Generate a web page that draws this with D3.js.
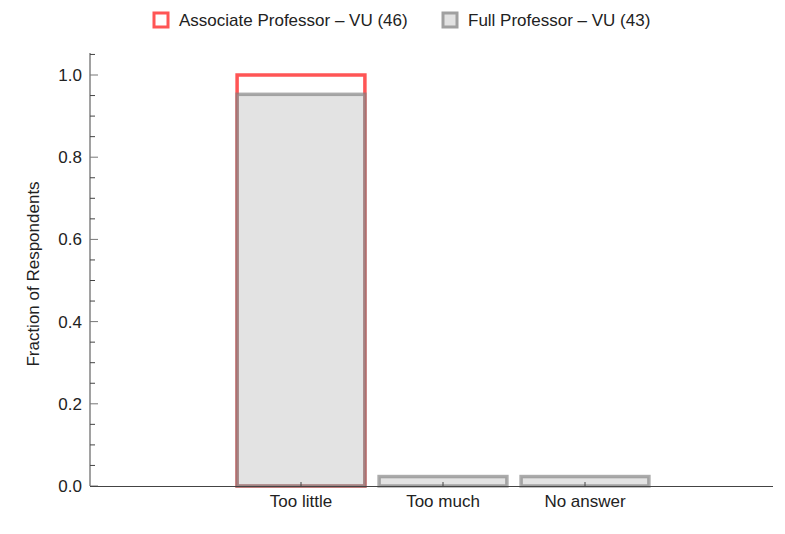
<!DOCTYPE html>
<html><head><meta charset="utf-8">
<script src="https://cdn.jsdelivr.net/npm/d3@7"></script>
<style>body{margin:0;background:#fff;} text{font-family:"Liberation Sans",Arial,sans-serif;}</style>
</head><body>
<svg id="c" width="785" height="534"></svg>
<script>
const categories = ["Too little", "Too much", "No answer"];
const associateVU = [1.0, 0.0, 0.0];
const fullVU = [0.953, 0.023, 0.023];
const seriesNames = ["Associate Professor \u2013 VU (46)", "Full Professor \u2013 VU (43)"];
const yTicks = [0.0, 0.2, 0.4, 0.6, 0.8, 1.0];

const svg = d3.select("#c");
const y = d3.scaleLinear().domain([0, 1]).range([486, 75]);
const x = d3.scaleBand().domain(categories).range([230, 656]).paddingInner(0.1).paddingOuter(0.05);
const axisColor = "#444";

// bars: associate (red) first, full (gray) on top
const red = "#ff5555";
svg.append("g").selectAll("rect").data(categories).join("rect")
  .attr("x", d => x(d)).attr("width", x.bandwidth())
  .attr("y", (d,i) => y(associateVU[i])).attr("height", (d,i) => y(0) - y(associateVU[i]))
  .attr("fill", "white").attr("stroke", red).attr("stroke-width", 3.5);
svg.append("g").selectAll("rect").data(categories).join("rect")
  .attr("x", d => x(d)).attr("width", x.bandwidth())
  .attr("y", (d,i) => y(fullVU[i])).attr("height", (d,i) => y(0) - y(fullVU[i]))
  .attr("fill", "rgba(200,200,200,0.5)").attr("stroke", "rgba(128,128,128,0.65)").attr("stroke-width", 3.5);

// y axis
const yAxis = d3.axisLeft(y).tickValues(yTicks).tickFormat(d3.format(".1f")).tickSize(0).tickPadding(8);
const ga = svg.append("g").attr("transform", "translate(90,0)").call(yAxis);
ga.select(".domain").remove();
ga.selectAll("text").attr("font-size", 17).attr("fill", "#222");
svg.append("line").attr("x1", 90).attr("x2", 90).attr("y1", 53).attr("y2", 486).attr("stroke", axisColor).attr("stroke-width", 1);
const minor = d3.range(0, 1.051, 0.05);
svg.append("g").selectAll("line").data(minor).join("line")
  .attr("x1", 90).attr("x2", (d) => Math.abs(Math.round(d*100) % 20) === 0 ? 98 : 95)
  .attr("y1", d => y(d)).attr("y2", d => y(d))
  .attr("stroke", d => Math.abs(Math.round(d*100) % 20) === 0 ? "#777" : axisColor).attr("stroke-width", 1);

// x axis
svg.append("line").attr("x1", 90).attr("x2", 773).attr("y1", 486.5).attr("y2", 486.5).attr("stroke", axisColor).attr("stroke-width", 1);
const xAxis = d3.axisBottom(x).tickSize(0).tickPadding(9);
const gx = svg.append("g").attr("transform", "translate(0,486)").call(xAxis);
gx.select(".domain").remove();
gx.selectAll("text").attr("font-size", 17).attr("fill", "#222");
svg.append("g").selectAll("line").data(categories).join("line")
  .attr("x1", d => x(d) + x.bandwidth()/2).attr("x2", d => x(d) + x.bandwidth()/2)
  .attr("y1", 486).attr("y2", 482).attr("stroke", axisColor);

// y label
svg.append("text").attr("transform", "translate(39,274) rotate(-90)").attr("text-anchor", "middle")
  .attr("font-size", 17).attr("fill", "#222").text("Fraction of Respondents");

// legend
const leg = [{x: 154, stroke: red, fill: "white", name: seriesNames[0]},
             {x: 443, stroke: "#a0a0a0", fill: "#e2e2e2", name: seriesNames[1]}];
const lg = svg.append("g").selectAll("g").data(leg).join("g").attr("transform", d => `translate(${d.x},13)`);
lg.append("rect").attr("width", 14).attr("height", 14).attr("fill", d => d.fill).attr("stroke", d => d.stroke).attr("stroke-width", 3);
lg.append("text").attr("x", 25).attr("y", 13).attr("font-size", 17).attr("fill", "#222").text(d => d.name);
</script>
</body></html>
